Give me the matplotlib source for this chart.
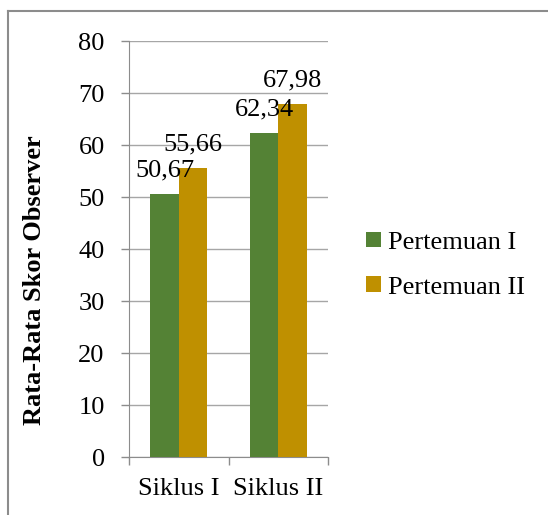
import matplotlib.pyplot as plt
import numpy as np
from matplotlib.lines import Line2D

plt.rcParams['font.family'] = ['Liberation Serif', 'DejaVu Serif']

# data
categories = ["Siklus I", "Siklus II"]
series_names = ["Pertemuan I", "Pertemuan II"]
pertemuan_1 = [50.67, 62.34]
pertemuan_2 = [55.66, 67.98]
value_labels_1 = ["50,67", "62,34"]
value_labels_2 = ["55,66", "67,98"]
colors = ["#548235", "#BF9000"]

fig = plt.figure(figsize=(5.48, 5.15), dpi=100)
ax = fig.add_axes([129 / 548, 1 - 457 / 515, 199 / 548, 416 / 515])

x = np.arange(len(categories))
w = 0.286
bars1 = ax.bar(x - w / 2, pertemuan_1, w, color=colors[0], label=series_names[0], zorder=3)
bars2 = ax.bar(x + w / 2, pertemuan_2, w, color=colors[1], label=series_names[1], zorder=3)

# data labels above bars
for bars, labels in [(bars1, value_labels_1), (bars2, value_labels_2)]:
    for b, lab in zip(bars, labels):
        ax.annotate(lab, (b.get_x() + b.get_width() / 2, b.get_height()),
                    xytext=(0, 12.2), textcoords="offset points",
                    ha="center", va="baseline", fontsize=19, zorder=5,
                    annotation_clip=False)

ax.set_xlim(-0.5, 1.5)
ax.set_ylim(0, 80)
ax.set_yticks(range(0, 81, 10))
ax.yaxis.grid(True, color="#A6A6A6", linewidth=1, zorder=0)
ax.set_axisbelow(True)

# category boundaries as major ticks, names on minor ticks
ax.set_xticks([-0.5, 0.5, 1.5])
ax.set_xticklabels([])
ax.set_xticks(x, minor=True)
ax.set_xticklabels(categories, minor=True, fontsize=19)
ax.tick_params(axis="x", which="major", length=6, color="#8C8C8C", width=1)
ax.tick_params(axis="x", which="minor", length=0, pad=15)
ax.tick_params(axis="y", length=6, color="#8C8C8C", width=1, labelsize=19, pad=11.5)

for s in ["top", "right"]:
    ax.spines[s].set_visible(False)
ax.spines["left"].set_color("#8C8C8C")
ax.spines["bottom"].set_color("#8C8C8C")

fig.text(35 / 548, 1 - 280 / 515, "Rata-Rata Skor Observer", rotation=90,
         ha="center", va="center", fontsize=19, fontweight="bold")

fig.legend(loc="center left", bbox_to_anchor=(366 / 548, 1 - 265 / 515),
           frameon=False, fontsize=19, handlelength=0.55, handleheight=0.55,
           handletextpad=0.3, labelspacing=0.85, borderpad=0, borderaxespad=0)

# outer frame (top and left edges)
fig.add_artist(Line2D([8 / 548, 8 / 548], [0, 1 - 11 / 515], transform=fig.transFigure,
                      color="#8C8C8C", linewidth=1.5))
fig.add_artist(Line2D([8 / 548, 1], [1 - 11 / 515, 1 - 11 / 515], transform=fig.transFigure,
                      color="#8C8C8C", linewidth=1.5))

fig.savefig("out.png", dpi=100)
